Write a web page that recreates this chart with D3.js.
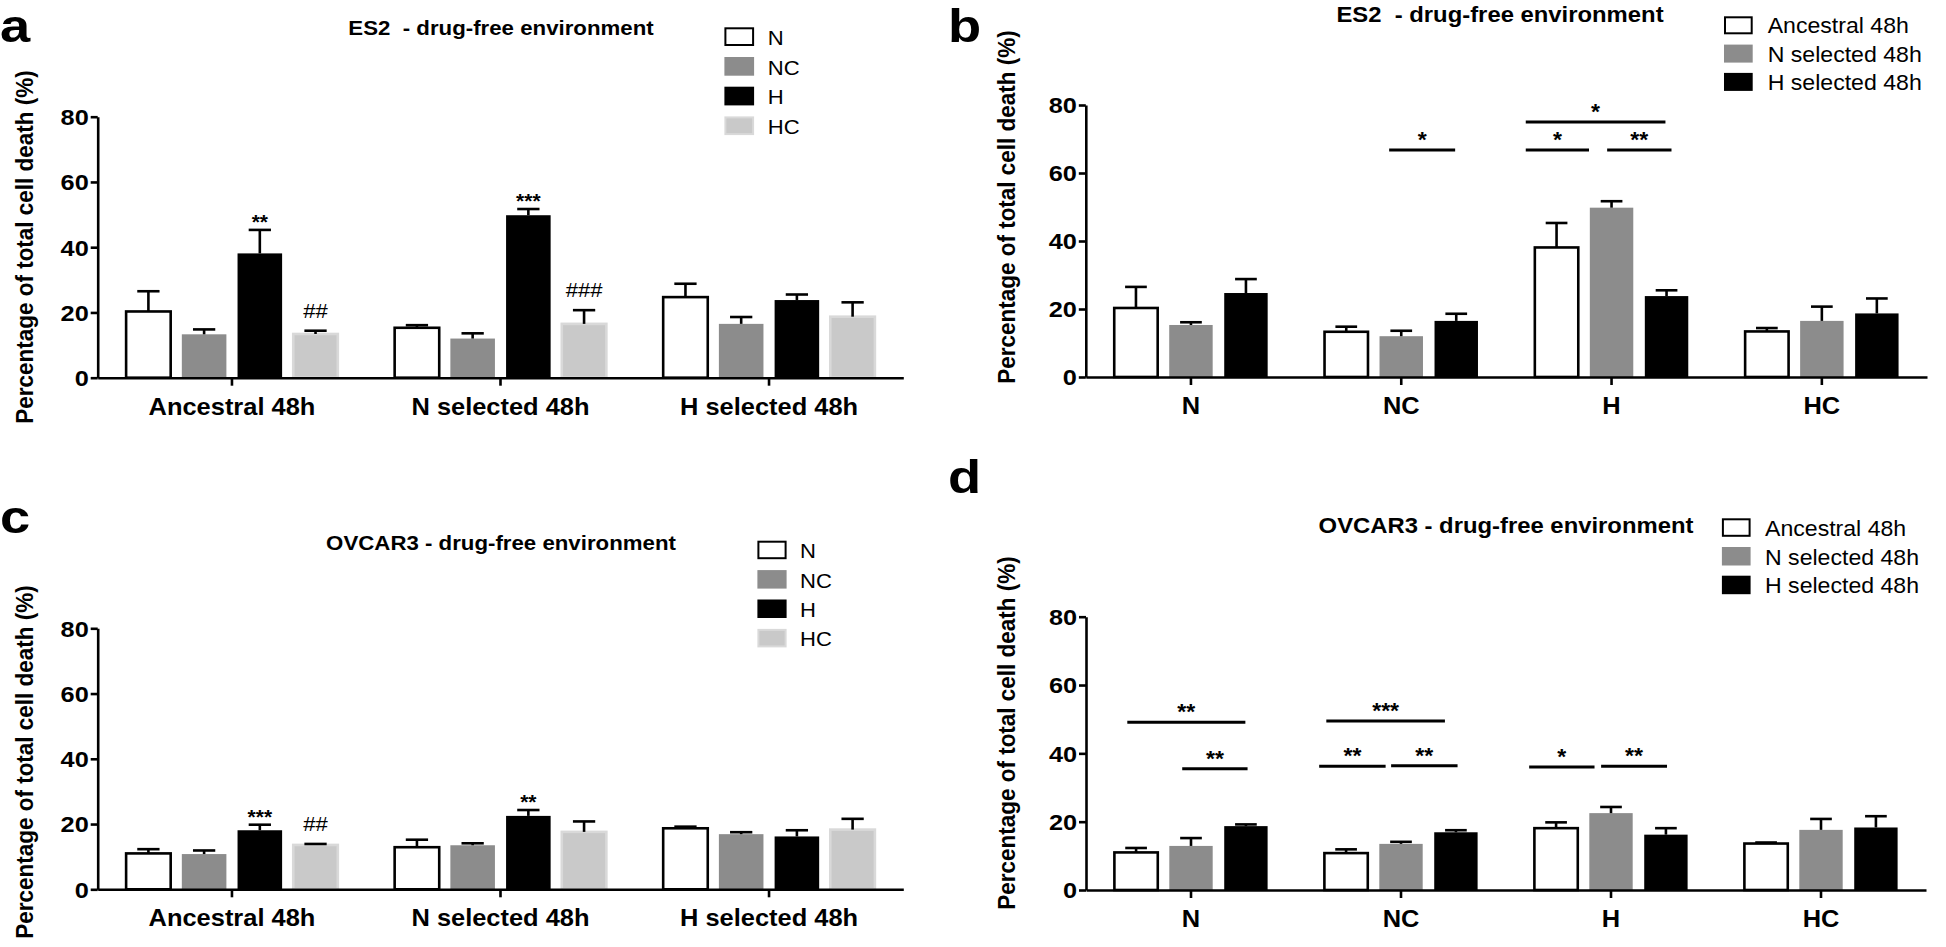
<!DOCTYPE html>
<html>
<head>
<meta charset="utf-8">
<script src="https://cdn.jsdelivr.net/npm/d3@7"></script>
<style>
body { margin: 0; background: #fff; }
svg { display: block; font-family: "Liberation Sans", Arial, Helvetica, sans-serif; }
</style>
</head>
<body>
<div id="fig"></div>
<script>
const width = 1946, height = 947;

// categories
const conditions = ["N", "NC", "H", "HC"];
const populations = ["Ancestral 48h", "N selected 48h", "H selected 48h"];
const yTicks = [0, 20, 40, 60, 80];

// ES2 - % of total cell death, one row per population, columns follow `conditions`
const es2Mean = [
  [20.3, 13.3, 38.1, 13.4],
  [15.3, 12.0, 49.8, 16.5],
  [24.7, 16.5, 23.8, 18.7]
];
const es2Err = [
  [6.2, 1.5, 7.2, 1.0],
  [0.8, 1.6, 1.9, 4.2],
  [4.1, 2.1, 1.7, 4.4]
];

// OVCAR3
const ovMean = [
  [11.0, 10.8, 18.1, 13.6],
  [12.9, 13.5, 22.5, 17.6],
  [18.7, 16.9, 16.2, 18.3]
];
const ovErr = [
  [1.3, 1.1, 1.7, 0.3],
  [2.3, 0.6, 1.8, 3.2],
  [0.5, 0.6, 1.9, 3.3]
];

// marks over single bars (panels a, c): [population, condition, label]
const es2Marks = [
  ["Ancestral 48h", "H", "**"], ["Ancestral 48h", "HC", "##"],
  ["N selected 48h", "H", "***"], ["N selected 48h", "HC", "###"]
];
const ovMarks = [
  ["Ancestral 48h", "H", "***"], ["Ancestral 48h", "HC", "##"],
  ["N selected 48h", "H", "**"]
];

// comparison lines (panels b, d): [condition, from bar, to bar, height (%), label]
const es2Lines = [
  ["NC", 0.78, 1.98, 66.8, "*"],
  ["H", -0.56, 0.59, 66.8, "*"],
  ["H", 0.92, 2.09, 66.8, "**"],
  ["H", -0.56, 1.98, 75.0, "*"]
];
const ovLines = [
  ["N", -0.16, 1.99, 49.1, "**"],
  ["N", 0.84, 2.03, 35.5, "**"],
  ["NC", -0.36, 1.80, 49.5, "***"],
  ["NC", -0.49, 0.72, 36.2, "**"],
  ["NC", 0.82, 2.03, 36.4, "**"],
  ["H", -0.49, 0.70, 36.0, "*"],
  ["H", 0.82, 2.02, 36.2, "**"]
];

const condFill = ["#ffffff", "#8c8c8c", "#000000", "#c9c9c9"];
const condStroke = ["#000000", "none", "none", "#d9d9d9"];
const popFill = ["#ffffff", "#8c8c8c", "#000000"];
const popStroke = ["#000000", "none", "none"];

const svg = d3.select("#fig").append("svg")
  .attr("width", width)
  .attr("height", height);

// text with a slight horizontal stretch, like the original figure
function txt(g, x, y, s, o) {
  return g.append("text")
    .attr("transform", `translate(${x},${y}) scale(${o.k || 1},1)` + (o.rot ? " rotate(-90)" : ""))
    .attr("text-anchor", o.anchor || "start")
    .style("font-size", o.size + "px")
    .style("font-weight", o.weight || "bold")
    .style("white-space", "pre")
    .text(s);
}

function drawPanel(p) {
  const g = svg.append("g");
  const y = d3.scaleLinear().domain([0, 80]).range([p.y0, p.y80]);
  const x0 = d3.scaleBand().domain(p.groups).range([p.left, p.right]);
  const x1 = d3.scaleBand().domain(p.series).range([0, x0.bandwidth()])
    .paddingInner(p.pi).paddingOuter(p.po);

  const cells = [];
  p.groups.forEach((gr, gi) => p.series.forEach((s, si) =>
    cells.push({ gr, s, si, v: p.value(gi, si), e: p.err(gi, si) })));

  // bars
  g.selectAll("rect.bar").data(cells).join("rect")
    .attr("class", "bar")
    .attr("x", d => x0(d.gr) + x1(d.s))
    .attr("width", x1.bandwidth())
    .attr("y", d => y(d.v))
    .attr("height", d => y(0) - y(d.v))
    .attr("fill", d => p.fill[d.si])
    .attr("stroke", d => p.stroke[d.si])
    .attr("stroke-width", 2.6);

  // upper error bars
  const cx = d => x0(d.gr) + x1(d.s) + x1.bandwidth() / 2;
  const eb = g.append("g").attr("stroke", "#000").attr("stroke-width", 2.6);
  eb.selectAll("line.v").data(cells).join("line")
    .attr("x1", cx).attr("x2", cx)
    .attr("y1", d => y(d.v)).attr("y2", d => y(d.v + d.e));
  eb.selectAll("line.c").data(cells).join("line")
    .attr("x1", d => cx(d) - x1.bandwidth() / 4)
    .attr("x2", d => cx(d) + x1.bandwidth() / 4)
    .attr("y1", d => y(d.v + d.e)).attr("y2", d => y(d.v + d.e));

  // y axis
  const ya = g.append("g")
    .attr("transform", `translate(${p.left},0)`)
    .call(d3.axisLeft(y).tickValues(yTicks).tickSize(7).tickSizeOuter(0));
  ya.selectAll("text")
    .attr("x", -9 / 1.15).attr("dy", "0.36em")
    .attr("transform", "scale(1.15,1)")
    .style("font-size", "22px").style("font-weight", "bold")
    .style("font-family", "'Liberation Sans', Arial, sans-serif");

  // x axis
  const xa = g.append("g")
    .attr("transform", `translate(0,${p.y0})`)
    .call(d3.axisBottom(x0).tickSize(8).tickSizeOuter(0));
  xa.selectAll("text")
    .attr("y", 20)
    .attr("transform", "scale(1.06,1)")
    .style("font-size", "24px").style("font-weight", "bold")
    .style("font-family", "'Liberation Sans', Arial, sans-serif");

  [ya, xa].forEach(a => {
    a.select(".domain").attr("stroke", "#000").attr("stroke-width", 2.6);
    a.selectAll(".tick line").attr("stroke", "#000").attr("stroke-width", 2.6);
  });

  // stars / hashes over single bars
  (p.marks || []).forEach(([gr, s, lab]) => {
    const gi = p.groups.indexOf(gr), si = p.series.indexOf(s);
    const d = { gr, s, v: p.value(gi, si), e: p.err(gi, si) };
    const top = y(d.v + d.e);
    if (lab[0] === "#") txt(g, cx(d), top - 13, lab, { size: 21, weight: "normal", anchor: "middle", k: 1.05 });
    else txt(g, cx(d), top - 1, lab, { size: 20, anchor: "middle", k: 1.05 });
  });

  // comparison lines
  const pos = (gr, i) => x0(gr) + x1(p.series[0]) + x1.bandwidth() / 2 + i * x1.step();
  (p.lines || []).forEach(([gr, a, b, v, lab]) => {
    g.append("line")
      .attr("x1", pos(gr, a)).attr("x2", pos(gr, b))
      .attr("y1", y(v)).attr("y2", y(v))
      .attr("stroke", "#000").attr("stroke-width", 3);
    txt(g, (pos(gr, a) + pos(gr, b)) / 2, y(v) - 3, lab, { size: 22, anchor: "middle", k: 1.05 });
  });

  // legend
  const L = p.legend;
  p.series.forEach((s, si) => {
    g.append("rect")
      .attr("x", L.x).attr("y", L.y + si * L.step)
      .attr("width", L.w).attr("height", L.h)
      .attr("fill", p.fill[si])
      .attr("stroke", p.stroke[si] === "none" ? p.fill[si] : p.stroke[si])
      .attr("stroke-width", 2);
    txt(g, L.textX, L.y + si * L.step + L.h, s, { size: L.size, weight: "normal", k: 1.05 });
  });

  // titles
  txt(g, p.titleX, p.titleY, p.title, { size: p.titleSize, anchor: "middle", k: 1.06 });
  txt(g, p.letterX, p.letterY, p.letter, { size: 46, k: 1.18 });
  txt(g, p.ytX, p.ytY, "Percentage of total cell death (%)", { size: 22.5, anchor: "middle", k: 1.09, rot: true });
}

drawPanel({
  groups: populations, series: conditions,
  value: (gi, si) => es2Mean[gi][si], err: (gi, si) => es2Err[gi][si],
  fill: condFill, stroke: condStroke,
  left: 97.7, right: 903.3, y0: 377.7, y80: 116.7, pi: 0.2, po: 0.51,
  title: "ES2  - drug-free environment", titleX: 501, titleY: 35, titleSize: 21,
  letter: "a", letterX: 0, letterY: 42, ytX: 33, ytY: 247,
  legend: { x: 725.4, y: 28.3, step: 29.7, w: 27.7, h: 16.7, textX: 767.8, size: 21 },
  marks: es2Marks
});

drawPanel({
  groups: conditions, series: populations,
  value: (gi, si) => es2Mean[si][gi], err: (gi, si) => es2Err[si][gi],
  fill: popFill, stroke: popStroke,
  left: 1085.8, right: 1927, y0: 377, y80: 105, pi: 0.21, po: 0.517,
  title: "ES2  - drug-free environment", titleX: 1500, titleY: 22, titleSize: 22.5,
  letter: "b", letterX: 948, letterY: 42, ytX: 1015, ytY: 207,
  legend: { x: 1725, y: 17.3, step: 28.3, w: 26.7, h: 16, textX: 1767.7, size: 22 },
  lines: es2Lines
});

drawPanel({
  groups: populations, series: conditions,
  value: (gi, si) => ovMean[gi][si], err: (gi, si) => ovErr[gi][si],
  fill: condFill, stroke: condStroke,
  left: 97.7, right: 903.3, y0: 889.3, y80: 628.3, pi: 0.2, po: 0.51,
  title: "OVCAR3 - drug-free environment", titleX: 501, titleY: 550, titleSize: 21,
  letter: "c", letterX: 0, letterY: 533, ytX: 33, ytY: 762,
  legend: { x: 758.4, y: 541.7, step: 29.4, w: 27.2, h: 16.5, textX: 800, size: 21 },
  marks: ovMarks
});

drawPanel({
  groups: conditions, series: populations,
  value: (gi, si) => ovMean[si][gi], err: (gi, si) => ovErr[si][gi],
  fill: popFill, stroke: popStroke,
  left: 1086, right: 1926, y0: 890, y80: 616.7, pi: 0.21, po: 0.517,
  title: "OVCAR3 - drug-free environment", titleX: 1506, titleY: 533, titleSize: 22.5,
  letter: "d", letterX: 948, letterY: 493, ytX: 1015, ytY: 733,
  legend: { x: 1722.9, y: 519.3, step: 28.7, w: 26.7, h: 16.5, textX: 1765, size: 22 },
  lines: ovLines
});
</script>
</body>
</html>
